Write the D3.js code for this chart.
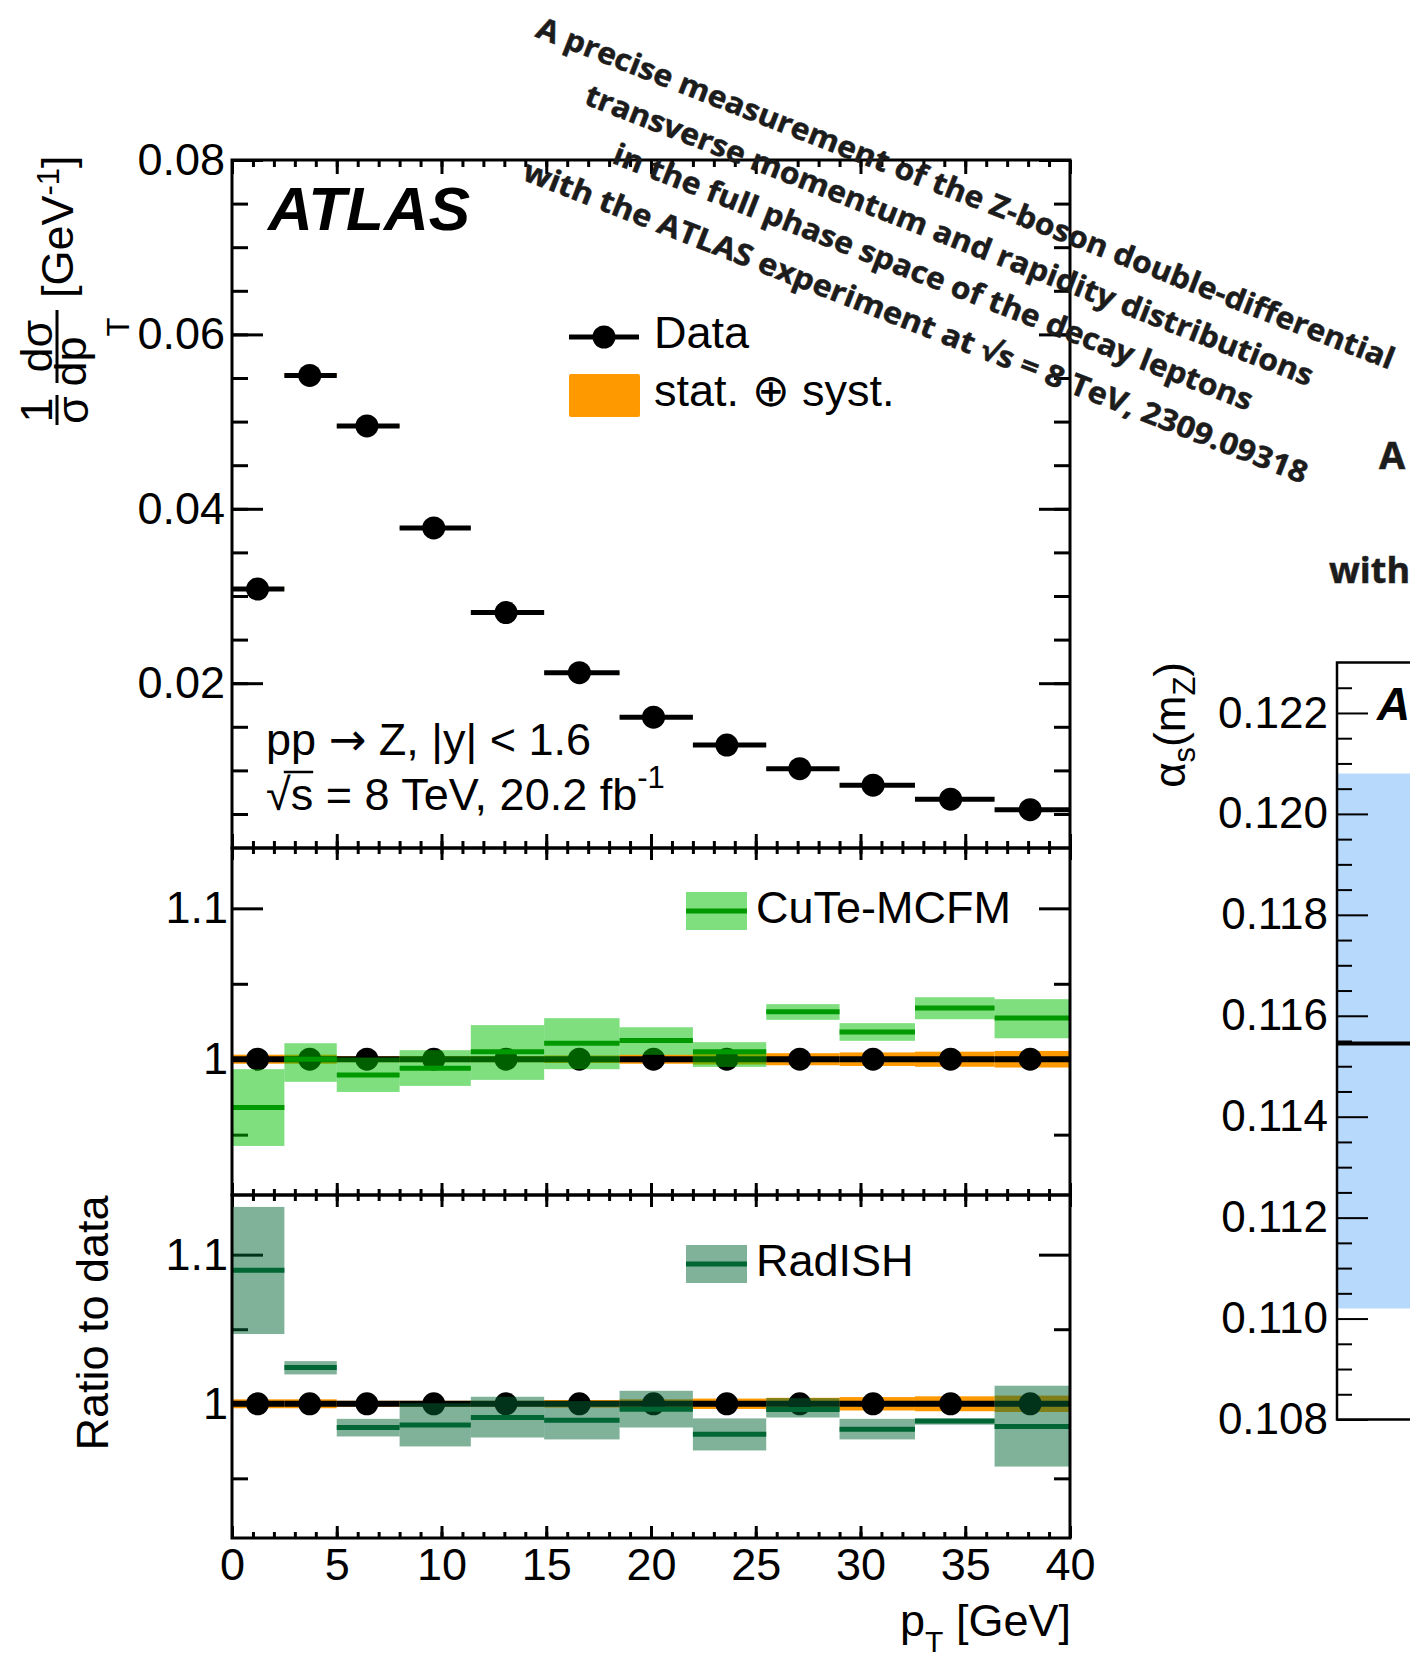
<!DOCTYPE html>
<html>
<head>
<meta charset="utf-8">
<script src="https://cdn.jsdelivr.net/npm/d3@7"></script>
<style>
  html, body { margin: 0; padding: 0; background: #fff; }
  svg { display: block; }
  .root { font-family: "Liberation Sans", Arial, Helvetica, sans-serif; }
  .title { font-family: "Open Sans", "Noto Sans", sans-serif; font-weight: 700; fill: #1c1c1c; stroke: #1c1c1c; stroke-width: 0.5; }
</style>
</head>
<body>
<script>
// ---------------- data ----------------
// pT bin edges [GeV]
const binEdges = [0, 2.5, 5, 8, 11.4, 14.9, 18.5, 22, 25.5, 29, 32.6, 36.4, 40.4];
// marker position (mean pT in each bin) [GeV]
const binMeanPt = [1.22, 3.71, 6.44, 9.63, 13.08, 16.58, 20.12, 23.62, 27.1, 30.6, 34.3, 38.1];
// normalised cross section 1/sigma dsigma/dpT [GeV^-1]
const dataValues = [0.0308, 0.0553, 0.0495, 0.0378, 0.0281, 0.0212, 0.0161, 0.0129, 0.0102, 0.0083, 0.0067, 0.0055];
// relative total uncertainty (stat + syst)
const dataRelErr = [0.003, 0.003, 0.002, 0.002, 0.002, 0.0025, 0.003, 0.0035, 0.004, 0.0045, 0.005, 0.0055];
// CuTe-MCFM / data
const cuteRatio = [0.968, 1.000, 0.9896, 0.994, 1.0049, 1.0106, 1.0124, 1.0049, 1.0314, 1.0181, 1.034, 1.0274];
const cuteUp    = [0.9934, 1.0106, 1.0011, 1.006, 1.0226, 1.0272, 1.0212, 1.0113, 1.0365, 1.0239, 1.0411, 1.0398];
const cuteDown  = [0.9425, 0.985, 0.9783, 0.9823, 0.9863, 0.9934, 1.0029, 0.9949, 1.0261, 1.0122, 1.0265, 1.0139];
// RadISH / data
const radishRatio = [1.0895, 1.0244, 0.9841, 0.9857, 0.9908, 0.989, 0.9964, 0.9796, 0.9962, 0.983, 0.9884, 0.9848];
const radishUp    = [1.132, 1.0286, 0.9899, 1.0004, 1.0047, 1.0018, 1.0087, 0.9902, 1.0038, 0.9899, 0.990, 1.0121];
const radishDown  = [1.0468, 1.0197, 0.9781, 0.9714, 0.9774, 0.9761, 0.9841, 0.9687, 0.9908, 0.9761, 0.986, 0.9579];
// alpha_s(mZ) result shown in the side panel
const alphaCentral = 0.11545;
const alphaUp = 0.1208;
const alphaDown = 0.1102;

// tick values and labels
const xMajorTicks = [0, 5, 10, 15, 20, 25, 30, 35, 40];
const xMinorTicks = d3.range(0, 41, 1);
const topYTicks = [0.02, 0.04, 0.06, 0.08];
const topYMinor = [0.005, 0.01, 0.015, 0.02, 0.025, 0.03, 0.035, 0.04, 0.045, 0.05, 0.055, 0.06, 0.065, 0.07, 0.075, 0.08];
const ratioYTicks = [1, 1.1];
const ratioYMinor = [0.95, 1.05];
const alphaTicks = [0.108, 0.110, 0.112, 0.114, 0.116, 0.118, 0.120, 0.122];
const alphaMinor = [0.1085, 0.109, 0.1095, 0.1105, 0.111, 0.1115, 0.1125, 0.113, 0.1135, 0.1145, 0.115, 0.1155,
                    0.1165, 0.117, 0.1175, 0.1185, 0.119, 0.1195, 0.1205, 0.121, 0.1215, 0.1225];
const titleLines = [
  "A precise measurement of the Z-boson double-differential",
  "transverse momentum and rapidity distributions",
  "in the full phase space of the decay leptons",
  "with the ATLAS experiment at \u221As = 8 TeV, 2309.09318"
];

// ---------------- colours ----------------
const C_ORANGE = "#ff9900";
const C_CUTE_BAND = "rgba(0,192,0,0.5)";
const C_CUTE_LINE = "#009900";
const C_RAD_BAND = "rgba(0,102,52,0.5)";
const C_RAD_LINE = "#006633";
const C_BLUE = "#b7d9fb";

const W = 1410, H = 1661;
const svg = d3.select("body").append("svg")
  .attr("width", W).attr("height", H).attr("class", "root");

const bins = dataValues.map((v, i) => ({ i, lo: binEdges[i], hi: binEdges[i + 1], mean: binMeanPt[i] }));

// ---------------- scales ----------------
const xL = 232, xR = 1070;
const x = d3.scaleLinear().domain([0, 40]).range([xL, xR]);
const panels = [
  { top: 160, bottom: 848 },
  { top: 848, bottom: 1195 },
  { top: 1195, bottom: 1538 }
];
const yTop = d3.scaleLinear().domain([0.0011, 0.08]).range([panels[0].bottom, panels[0].top]);
const yR1 = d3.scaleLinear().domain([0.91, 1.14]).range([panels[1].bottom, panels[1].top]);
const yR2 = d3.scaleLinear().domain([0.91, 1.14]).range([panels[2].bottom, panels[2].top]);

// horizontal clip to the plotted pT range
svg.append("defs").append("clipPath").attr("id", "xclip")
  .append("rect").attr("x", xL).attr("y", 0).attr("width", xR - xL).attr("height", H);

const FS = 45;

function styleAxis(g, sw) {
  g.select(".domain").remove();
  g.selectAll(".tick line").attr("stroke", "#000").attr("stroke-width", sw || 3);
  g.selectAll(".tick text").attr("fill", "#000").attr("font-size", FS)
    .attr("font-family", "Liberation Sans, Arial, sans-serif");
}

function panelAxes(p, yScale, yMajor, yMinor, xLen, fmt, withXLabels, pad) {
  const g = svg.append("g");
  // x ticks on top and bottom edges, pointing inwards
  [[d3.axisTop, p.top], [d3.axisBottom, p.bottom]].forEach(([fn, yy]) => {
    g.append("g").attr("transform", `translate(0,${yy})`)
      .call(fn(x).tickValues(xMinorTicks).tickSizeInner(-xLen / 2).tickSizeOuter(0).tickFormat(""))
      .call(styleAxis);
    const ax = fn(x).tickValues(xMajorTicks).tickSizeInner(-xLen).tickSizeOuter(0).tickPadding(10)
      .tickFormat(withXLabels && fn === d3.axisBottom ? d3.format("d") : "");
    g.append("g").attr("transform", `translate(0,${yy})`).call(ax).call(styleAxis);
  });
  // y ticks on left and right edges
  [[d3.axisLeft, xL], [d3.axisRight, xR]].forEach(([fn, xx]) => {
    g.append("g").attr("transform", `translate(${xx},0)`)
      .call(fn(yScale).tickValues(yMinor).tickSizeInner(-16).tickSizeOuter(0).tickFormat(""))
      .call(styleAxis);
    g.append("g").attr("transform", `translate(${xx},0)`)
      .call(fn(yScale).tickValues(yMajor).tickSizeInner(-31).tickSizeOuter(0).tickPadding(pad)
        .tickFormat(fn === d3.axisLeft ? fmt : ""))
      .call(styleAxis);
  });
  return g;
}

function frame(p) {
  svg.append("rect").attr("x", xL).attr("y", p.top).attr("width", xR - xL).attr("height", p.bottom - p.top)
    .attr("fill", "none").attr("stroke", "#000").attr("stroke-width", 3);
}

// ---------------- top panel ----------------
panelAxes(panels[0], yTop, topYTicks, topYMinor, 14, d3.format(".2f"), false, 7);

const gTop = svg.append("g").attr("clip-path", "url(#xclip)");
gTop.selectAll("rect.unc").data(bins).join("rect")
  .attr("x", d => x(d.lo)).attr("width", d => x(d.hi) - x(d.lo))
  .attr("y", d => yTop(dataValues[d.i] * (1 + dataRelErr[d.i])))
  .attr("height", d => Math.max(yTop(dataValues[d.i] * (1 - dataRelErr[d.i])) - yTop(dataValues[d.i] * (1 + dataRelErr[d.i])), 1))
  .attr("fill", C_ORANGE);
gTop.selectAll("line.bar").data(bins).join("line")
  .attr("x1", d => x(d.lo)).attr("x2", d => x(d.hi))
  .attr("y1", d => yTop(dataValues[d.i])).attr("y2", d => yTop(dataValues[d.i]))
  .attr("stroke", "#000").attr("stroke-width", 5);
gTop.selectAll("circle").data(bins).join("circle")
  .attr("cx", d => x(d.mean)).attr("cy", d => yTop(dataValues[d.i])).attr("r", 11.5).attr("fill", "#000");
frame(panels[0]);

// ATLAS label and process text
svg.append("text").attr("x", 268).attr("y", 230).attr("font-size", 62)
  .attr("font-weight", 700).attr("font-style", "italic").text("ATLAS");
const pp = svg.append("text").attr("x", 266).attr("y", 755).attr("font-size", FS);
pp.append("tspan").text("pp ");
pp.append("tspan").attr("font-family", "DejaVu Sans").text("\u2192");
pp.append("tspan").text(" Z, |y| < 1.6");
const sq = svg.append("text").attr("x", 266).attr("y", 810).attr("font-size", FS);
sq.append("tspan").text("\u221A");
sq.append("tspan").text("s");
sq.append("tspan").text(" = 8 TeV, 20.2 fb");
sq.append("tspan").attr("font-size", 31).attr("dy", -22).text("-1");
// bar of the square root over "s"
{
  const n = sq.node();
  const s0 = n.getStartPositionOfChar(0).x + n.getSubStringLength(0, 1) * 0.72;
  const s1 = n.getStartPositionOfChar(1).x + n.getSubStringLength(1, 1);
  svg.append("line").attr("x1", s0).attr("x2", s1).attr("y1", 772).attr("y2", 772)
    .attr("stroke", "#000").attr("stroke-width", 2.5);
}

// legend: data and uncertainty
svg.append("line").attr("x1", 569).attr("x2", 639).attr("y1", 337).attr("y2", 337)
  .attr("stroke", "#000").attr("stroke-width", 5);
svg.append("circle").attr("cx", 604).attr("cy", 337).attr("r", 11.5).attr("fill", "#000");
svg.append("text").attr("x", 654).attr("y", 348).attr("font-size", FS).text("Data");
svg.append("rect").attr("x", 569).attr("y", 374).attr("width", 71).attr("height", 43).attr("rx", 2)
  .attr("fill", C_ORANGE);
svg.append("text").attr("x", 654).attr("y", 406).attr("font-size", FS).text("stat. \u2295 syst.");

// ---------------- ratio panels ----------------
function ratioPanel(p, yS, ratio, up, down, bandCol, lineCol, label, legY) {
  panelAxes(p, yS, ratioYTicks, ratioYMinor, 12, d => d === 1 ? "1" : d3.format(".1f")(d), p === panels[2], 4);
  const g = svg.append("g").attr("clip-path", "url(#xclip)");
  g.selectAll("rect.unc").data(bins).join("rect")
    .attr("x", d => x(d.lo)).attr("width", d => x(d.hi) - x(d.lo))
    .attr("y", d => yS(1 + dataRelErr[d.i])).attr("height", d => yS(1 - dataRelErr[d.i]) - yS(1 + dataRelErr[d.i]))
    .attr("fill", C_ORANGE);
  g.selectAll("line.bar").data(bins).join("line")
    .attr("x1", d => x(d.lo)).attr("x2", d => x(d.hi))
    .attr("y1", yS(1)).attr("y2", yS(1))
    .attr("stroke", "#000").attr("stroke-width", 6);
  g.selectAll("circle").data(bins).join("circle")
    .attr("cx", d => x(d.mean)).attr("cy", yS(1)).attr("r", 11.5).attr("fill", "#000");
  g.selectAll("rect.model").data(bins).join("rect")
    .attr("x", d => x(d.lo)).attr("width", d => x(d.hi) - x(d.lo))
    .attr("y", d => yS(up[d.i])).attr("height", d => yS(down[d.i]) - yS(up[d.i]))
    .attr("fill", bandCol);
  g.selectAll("line.model").data(bins).join("line")
    .attr("x1", d => x(d.lo)).attr("x2", d => x(d.hi))
    .attr("y1", d => yS(ratio[d.i])).attr("y2", d => yS(ratio[d.i]))
    .attr("stroke", lineCol).attr("stroke-width", 5);
  frame(p);
  // legend entry
  svg.append("rect").attr("x", 686).attr("y", legY - 19).attr("width", 61).attr("height", 38).attr("fill", bandCol);
  svg.append("line").attr("x1", 686).attr("x2", 747).attr("y1", legY).attr("y2", legY)
    .attr("stroke", lineCol).attr("stroke-width", 5);
  svg.append("text").attr("x", 756).attr("y", legY + 12).attr("font-size", FS).text(label);
}
ratioPanel(panels[1], yR1, cuteRatio, cuteUp, cuteDown, C_CUTE_BAND, C_CUTE_LINE, "CuTe-MCFM", 911);
ratioPanel(panels[2], yR2, radishRatio, radishUp, radishDown, C_RAD_BAND, C_RAD_LINE, "RadISH", 1264);

// ---------------- axis titles ----------------
const xt = svg.append("text").attr("x", 1071).attr("y", 1636).attr("font-size", FS).attr("text-anchor", "end");
xt.append("tspan").text("p");
xt.append("tspan").attr("font-size", 30).attr("dy", 16).text("T");
xt.append("tspan").attr("dy", -16).text(" [GeV]");

// rotated y titles: local x runs bottom-to-top on screen, local y runs left-to-right
const yt = svg.append("g").attr("transform", "rotate(-90)").attr("font-size", FS);
yt.append("text").attr("x", -410).attr("y", 52).attr("text-anchor", "middle").text("1");
yt.append("line").attr("x1", -425).attr("x2", -395).attr("y1", 57).attr("y2", 57).attr("stroke", "#000").attr("stroke-width", 3);
yt.append("text").attr("x", -410).attr("y", 88).attr("text-anchor", "middle").text("\u03C3");
yt.append("text").attr("x", -346).attr("y", 52).attr("text-anchor", "middle").text("d\u03C3");
yt.append("line").attr("x1", -383).attr("x2", -310).attr("y1", 57).attr("y2", 57).attr("stroke", "#000").attr("stroke-width", 3);
const dp = yt.append("text").attr("x", -352).attr("y", 86).attr("text-anchor", "middle");
dp.append("tspan").text("dp");
dp.append("tspan").attr("font-size", 31).attr("dy", 43).text("T");
const gev = yt.append("text").attr("x", -298).attr("y", 73);
gev.append("tspan").text("[GeV");
gev.append("tspan").attr("font-size", 31).attr("dy", -14).text("-1");
gev.append("tspan").attr("dy", 14).text("]");
yt.append("text").attr("x", -1323).attr("y", 108).attr("text-anchor", "middle").text("Ratio to data");

// ---------------- side panel: alpha_s(mZ) ----------------
const yA = d3.scaleLinear().domain([0.108, 0.123]).range([1419.5, 662.5]);
const fx = 1337;
svg.append("rect").attr("x", fx).attr("y", yA(alphaUp)).attr("width", W - fx)
  .attr("height", yA(alphaDown) - yA(alphaUp)).attr("fill", C_BLUE);
svg.append("line").attr("x1", fx).attr("x2", W).attr("y1", yA(alphaCentral)).attr("y2", yA(alphaCentral))
  .attr("stroke", "#000").attr("stroke-width", 4);
const ga = svg.append("g").attr("transform", `translate(${fx},0)`);
ga.append("g").call(d3.axisLeft(yA).tickValues(alphaMinor).tickSizeInner(-15).tickSizeOuter(0).tickFormat(""))
  .call(g => styleAxis(g, 2));
ga.append("g").call(d3.axisLeft(yA).tickValues(alphaTicks).tickSizeInner(-31).tickSizeOuter(0).tickPadding(9)
  .tickFormat(d3.format(".3f"))).call(g => styleAxis(g, 2));
ga.selectAll(".tick text").attr("font-size", 44);
svg.append("path").attr("d", `M${W + 5},${yA(0.123)}H${fx}V${yA(0.108)}H${W + 5}`)
  .attr("fill", "none").attr("stroke", "#000").attr("stroke-width", 2.5);
svg.append("text").attr("x", 1377).attr("y", 720).attr("font-size", 46)
  .attr("font-weight", 700).attr("font-style", "italic").text("A");
const al = svg.append("g").attr("transform", "rotate(-90)").attr("font-size", 44);
const alT = al.append("text").attr("x", -662).attr("y", 1185).attr("text-anchor", "end");
alT.append("tspan").text("\u03B1");
alT.append("tspan").attr("font-size", 31).attr("dy", 10).text("s");
alT.append("tspan").attr("dy", -10).text("(m");
alT.append("tspan").attr("font-size", 31).attr("dy", 10).text("Z");
alT.append("tspan").attr("dy", -10).text(")");

// side panel heading fragments
svg.append("text").attr("class", "title").attr("x", 1379).attr("y", 469).attr("font-size", 38).text("A");
svg.append("text").attr("class", "title").attr("x", 1329).attr("y", 583).attr("font-size", 36).text("with");

// ---------------- slanted title ----------------
const lineLen = [918, 779, 684, 839];
const lineOff = [0, 45, 90, 138];
const tg = svg.append("g").attr("transform", "translate(962,203) rotate(21.3)");
titleLines.forEach((t, i) => {
  tg.append("text").attr("class", "title").attr("x", 0).attr("y", lineOff[i])
    .attr("text-anchor", "middle").attr("font-size", 30)
    .attr("textLength", lineLen[i]).attr("lengthAdjust", "spacingAndGlyphs").text(t);
});
</script>
</body>
</html>
